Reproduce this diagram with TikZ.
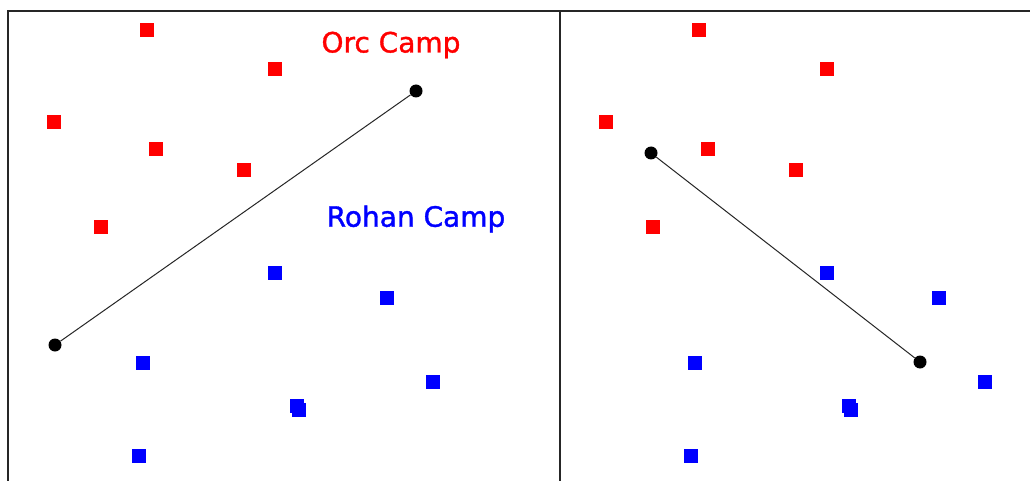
\documentclass[tikz,border=0pt]{standalone}
\usepackage{fontspec}
\setmainfont{DejaVu Sans}
\newfontfamily\campfont[FakeBold=1.2]{DejaVu Sans}
\tikzset{
  x=1pt, y=-1pt,
  orc/.style={fill=red, minimum size=14pt, inner sep=0pt},
  rohan/.style={fill=blue, minimum size=14pt, inner sep=0pt},
  pin/.style={circle, fill=black, minimum size=13pt, inner sep=0pt},
  frame/.style={line width=2pt, draw=black!85},
  path/.style={line width=1pt, black!85},
  camp/.style={font=\campfont\fontsize{28}{30}\selectfont, inner sep=0pt}
}
\begin{document}
\begin{tikzpicture}
\useasboundingbox (0,0) rectangle (1032,481);
\fill[white] (0,0) rectangle (1032,481);
% frames
\draw[frame] (8,481) -- (8,11.5) -- (1030,11.5);
\draw[frame] (559.5,11.5) -- (559.5,481);
% left panel
\foreach \n/\x/\y in {a/147/30, b/275/69, c/54/122, d/156/149, e/244/170, f/101/227}
  \node[orc] (L\n) at (\x,\y) {};
\foreach \n/\x/\y in {a/275/273, b/387/298, c/143/363, d/433/382, e/297/406, f/299/410, g/139/456}
  \node[rohan] (L\n) at (\x,\y) {};
\node[camp, text=red] (orclabel) at (391,45) {Orc Camp};
\node[camp, text=blue] (rohanlabel) at (416,219) {Rohan Camp};
\node[pin] (p1) at (55,345) {};
\node[pin] (p2) at (416,91) {};
\draw[path] (p1) -- (p2);
% right panel
\foreach \n/\x/\y in {a/147/30, b/275/69, c/54/122, d/156/149, e/244/170, f/101/227}
  \node[orc] (R\n) at (\x+552,\y) {};
\foreach \n/\x/\y in {a/275/273, b/387/298, c/143/363, d/433/382, e/297/406, f/299/410, g/139/456}
  \node[rohan] (R\n) at (\x+552,\y) {};
\node[pin] (q1) at (651,153) {};
\node[pin] (q2) at (920,362) {};
\draw[path] (q1) -- (q2);
\end{tikzpicture}
\end{document}
